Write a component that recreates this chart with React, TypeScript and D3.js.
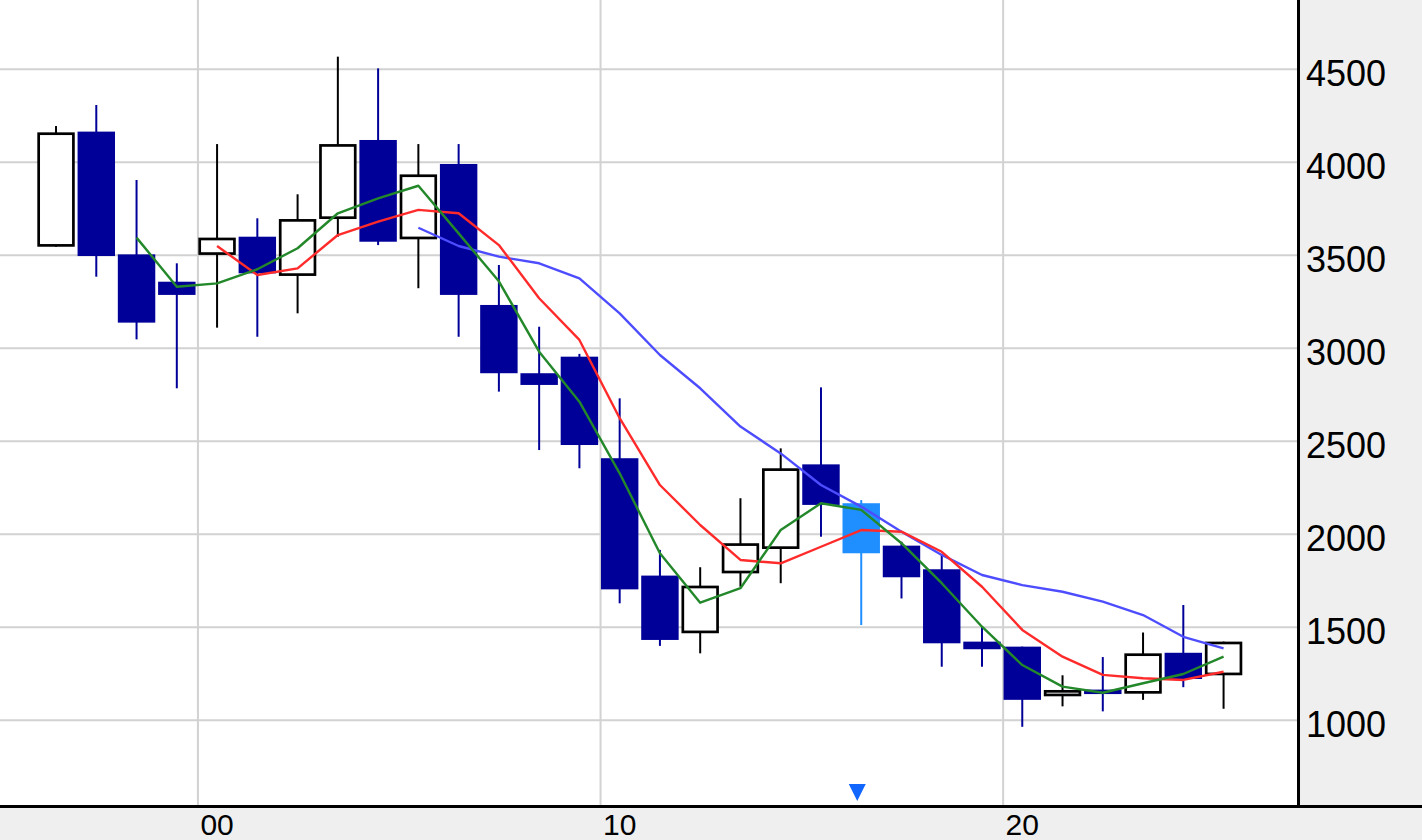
import * as d3 from 'd3';
import React from 'react';

// yearly candles, 1996 - 2025
const years = [
  '1996', '1997', '1998', '1999', '2000', '2001', '2002', '2003', '2004', '2005',
  '2006', '2007', '2008', '2009', '2010', '2011', '2012', '2013', '2014', '2015',
  '2016', '2017', '2018', '2019', '2020', '2021', '2022', '2023', '2024', '2025',
];
const opens = [
  3546, 4165, 3505, 3358, 3502, 3600, 3389, 3695, 4120, 3586,
  3991, 3233, 2866, 2955, 2409, 1778, 1468, 1790, 1921, 2376,
  2167, 1939, 1812, 1423, 1396, 1129, 1165, 1143, 1363, 1242,
];
const highs = [
  4195, 4308, 3905, 3457, 4098, 3699, 3828, 4568, 4505, 4098,
  4098, 3448, 3116, 2970, 2731, 1916, 1823, 2194, 2462, 2790,
  2184, 1960, 1889, 1503, 1396, 1242, 1340, 1472, 1620, 1423,
];
const lows = [
  3546, 3385, 3048, 2785, 3111, 3062, 3188, 3600, 3555, 3323,
  3062, 2767, 2453, 2355, 1629, 1400, 1360, 1718, 1737, 1987,
  1512, 1655, 1288, 1288, 965, 1075, 1048, 1110, 1178, 1062,
];
const closes = [
  4161, 3496, 3138, 3287, 3595, 3403, 3695, 4098, 3573, 3935,
  3287, 2866, 2803, 2480, 1704, 1432, 1724, 1952, 2355, 2158,
  1898, 1769, 1414, 1382, 1110, 1163, 1141, 1360, 1222, 1423,
];

// moving averages as drawn (null = not yet available)
const ma3 = [
  null, null, 3595, 3331, 3349, 3425, 3538, 3726, 3806, 3874,
  3618, 3360, 2982, 2713, 2328, 1898, 1632, 1710, 2023, 2167,
  2131, 1952, 1737, 1503, 1297, 1181, 1148, 1199, 1249, 1342,
];
const ma5 = [
  null, null, null, null, 3550, 3394, 3430, 3609, 3681, 3744,
  3726, 3555, 3269, 3045, 2624, 2265, 2050, 1862, 1844, 1933,
  2023, 2014, 1906, 1718, 1486, 1342, 1244, 1226, 1217, 1261,
];
const ma10 = [
  null, null, null, null, null, null, null, null, null, 3648,
  3550, 3493, 3457, 3376, 3188, 2964, 2785, 2579, 2435, 2265,
  2149, 2014, 1889, 1781, 1727, 1691, 1638, 1566, 1449, 1387,
];

const priceTicks = [1000, 1500, 2000, 2500, 3000, 3500, 4000, 4500];
const gridYears = ['2000', '2010', '2020'];
const gridLabels = ['00', '10', '20'];
const highlightYear = '2016';

const W = 1422;
const H = 840;
const plotRight = 1297;
const plotBottom = 805;

function App() {
  const x = d3
    .scaleBand<string>()
    .domain(years)
    .range([35.9, 35.9 + 30 * 40.26])
    .paddingInner(0);
  const y = d3.scaleLinear().domain([544.6, 4872.6]).range([plotBottom, 0]);
  const bw = x.bandwidth();
  const bodyW = bw * 0.93;
  const cx = (yr: string) => (x(yr) as number) + bw / 2;

  const line = d3
    .line<number | null>()
    .defined((d) => d != null)
    .x((d, i) => cx(years[i]))
    .y((d) => y(d as number));

  const maLines = [
    { vals: ma10, color: '#4d4dff' },
    { vals: ma5, color: '#ff2b2b' },
    { vals: ma3, color: '#23882a' },
  ];

  return (
    <svg
      width={W}
      height={H}
      style={{ position: 'absolute', left: 0, top: 0, background: '#fff' }}
      fontFamily="'Liberation Sans', Arial, sans-serif"
    >
      {/* grid */}
      {priceTicks.map((v) => (
        <line key={v} x1={0} x2={plotRight} y1={y(v)} y2={y(v)} stroke="#d2d2d2" strokeWidth={2} />
      ))}
      {gridYears.map((yr) => (
        <line
          key={yr}
          x1={(x(yr) as number) + 1}
          x2={(x(yr) as number) + 1}
          y1={0}
          y2={plotBottom}
          stroke="#d2d2d2"
          strokeWidth={2}
        />
      ))}

      {/* candles */}
      {years.map((yr, i) => {
        const o = opens[i];
        const c = closes[i];
        const up = c >= o;
        const hl = yr === highlightYear;
        const col = hl ? '#1f8fff' : up ? '#000' : '#000099';
        const top = y(Math.max(o, c));
        const bot = y(Math.min(o, c));
        const left = cx(yr) - bodyW / 2;
        return (
          <g key={yr}>
            <line x1={cx(yr)} x2={cx(yr)} y1={y(highs[i])} y2={y(lows[i])} stroke={col} strokeWidth={2} />
            {up ? (
              <rect
                x={left + 1.35}
                y={top + 1.35}
                width={bodyW - 2.7}
                height={Math.max(bot - top - 2.7, 1)}
                fill="#fff"
                stroke="#000"
                strokeWidth={2.7}
              />
            ) : (
              <rect x={left} y={top} width={bodyW} height={Math.max(bot - top, 2)} fill={col} />
            )}
          </g>
        );
      })}

      {/* moving averages */}
      {maLines.map((m) => (
        <path
          key={m.color}
          d={line(m.vals) as string}
          fill="none"
          stroke={m.color}
          strokeWidth={2.4}
          strokeLinejoin="round"
        />
      ))}

      {/* marker */}
      <path d={`M${cx(highlightYear) - 12.5},784 h17 l-8.5,17 Z`} fill="#1166ff" />

      {/* axis panels */}
      <rect x={plotRight + 3} y={0} width={W - plotRight - 3} height={plotBottom} fill="#efefef" />
      <rect x={0} y={plotBottom + 3} width={W} height={H - plotBottom - 3} fill="#efefef" />
      <line x1={plotRight + 1.5} x2={plotRight + 1.5} y1={0} y2={plotBottom + 3} stroke="#000" strokeWidth={3} />
      <line x1={0} x2={W} y1={plotBottom + 1.5} y2={plotBottom + 1.5} stroke="#000" strokeWidth={3} />

      {priceTicks.map((v) => (
        <text key={v} x={1306} y={y(v) + 17} fontSize={36} fill="#000">
          {v}
        </text>
      ))}
      {gridYears.map((yr, i) => (
        <text key={yr} x={cx(yr)} y={835} fontSize={30} textAnchor="middle" fill="#000">
          {gridLabels[i]}
        </text>
      ))}
    </svg>
  );
}

export default App;
